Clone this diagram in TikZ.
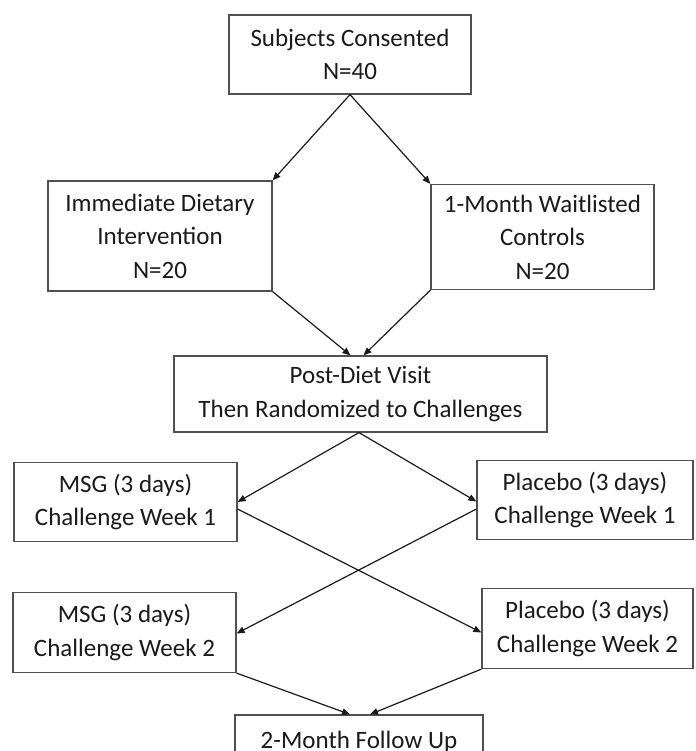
\documentclass[tikz,border=0pt]{standalone}
\usepackage{fontspec}
\setmainfont{Carlito}
\usetikzlibrary{arrows.meta}
\definecolor{boxline}{HTML}{505050}
\definecolor{txt}{HTML}{1A1A1A}
\definecolor{arr}{HTML}{1A1A1A}
\begin{document}
\begin{tikzpicture}[x=1pt,y=-1pt,
  box/.style={draw=boxline, line width=1.2pt, rectangle, inner sep=0pt, align=center,
    text=txt, font=\fontsize{25}{33.5}\selectfont},
  conn/.style={draw=arr, line width=1.2pt, -{Triangle[length=8pt,width=6.5pt]}}]
\clip (0,0) rectangle (695,751);
\fill[white] (0,0) rectangle (695,751);
\node[box, minimum width=242pt, minimum height=79pt] (consent) at (350,54.5) {Subjects Consented\\N=40};
\node[box, minimum width=224pt, minimum height=110pt] (immed) at (160,236) {Immediate Dietary\\Intervention\\N=20};
\node[box, minimum width=223pt, minimum height=105pt] (wait) at (542.5,237) {1-Month Waitlisted\\Controls\\N=20};
\node[box, minimum width=373pt, minimum height=76pt] (post) at (360.5,394) {Post-Diet Visit\\Then Randomized to Challenges};
\node[box, minimum width=223pt, minimum height=79pt] (msga) at (125.5,502) {MSG (3 days)\\Challenge Week 1};
\node[box, minimum width=216pt, minimum height=79pt] (plca) at (585,500) {Placebo (3 days)\\Challenge Week 1};
\node[box, minimum width=223pt, minimum height=80pt] (msgb) at (124.5,632.5) {MSG (3 days)\\Challenge Week 2};
\node[box, minimum width=211pt, minimum height=80pt] (plcb) at (587.5,628.5) {Placebo (3 days)\\Challenge Week 2};
\node[box, minimum width=248pt, minimum height=84pt] (follow) at (359,757) {2-Month Follow Up\\\phantom{N}};
\draw[conn] (consent.south) -- (immed.north east);
\draw[conn] (consent.south) -- (wait.north west);
\draw[conn] (immed.south east) -- ([xshift=-10pt]post.north);
\draw[conn] (wait.south west) -- ([xshift=3pt]post.north);
\draw[conn] ([xshift=-1.5pt]post.south) -- (msga.east);
\draw[conn] ([xshift=-1.5pt]post.south) -- ([yshift=-1.5pt]plca.west);
\draw[conn] ([yshift=-7pt]msga.east) -- ([yshift=-4pt]plcb.west);
\draw[conn] ([yshift=-9pt]plca.west) -- ([yshift=-1pt]msgb.east);
\draw[conn] (msgb.south east) -- ([xshift=-9pt]follow.north);
\draw[conn] (plcb.south west) -- ([xshift=11pt]follow.north);
\end{tikzpicture}
\end{document}
